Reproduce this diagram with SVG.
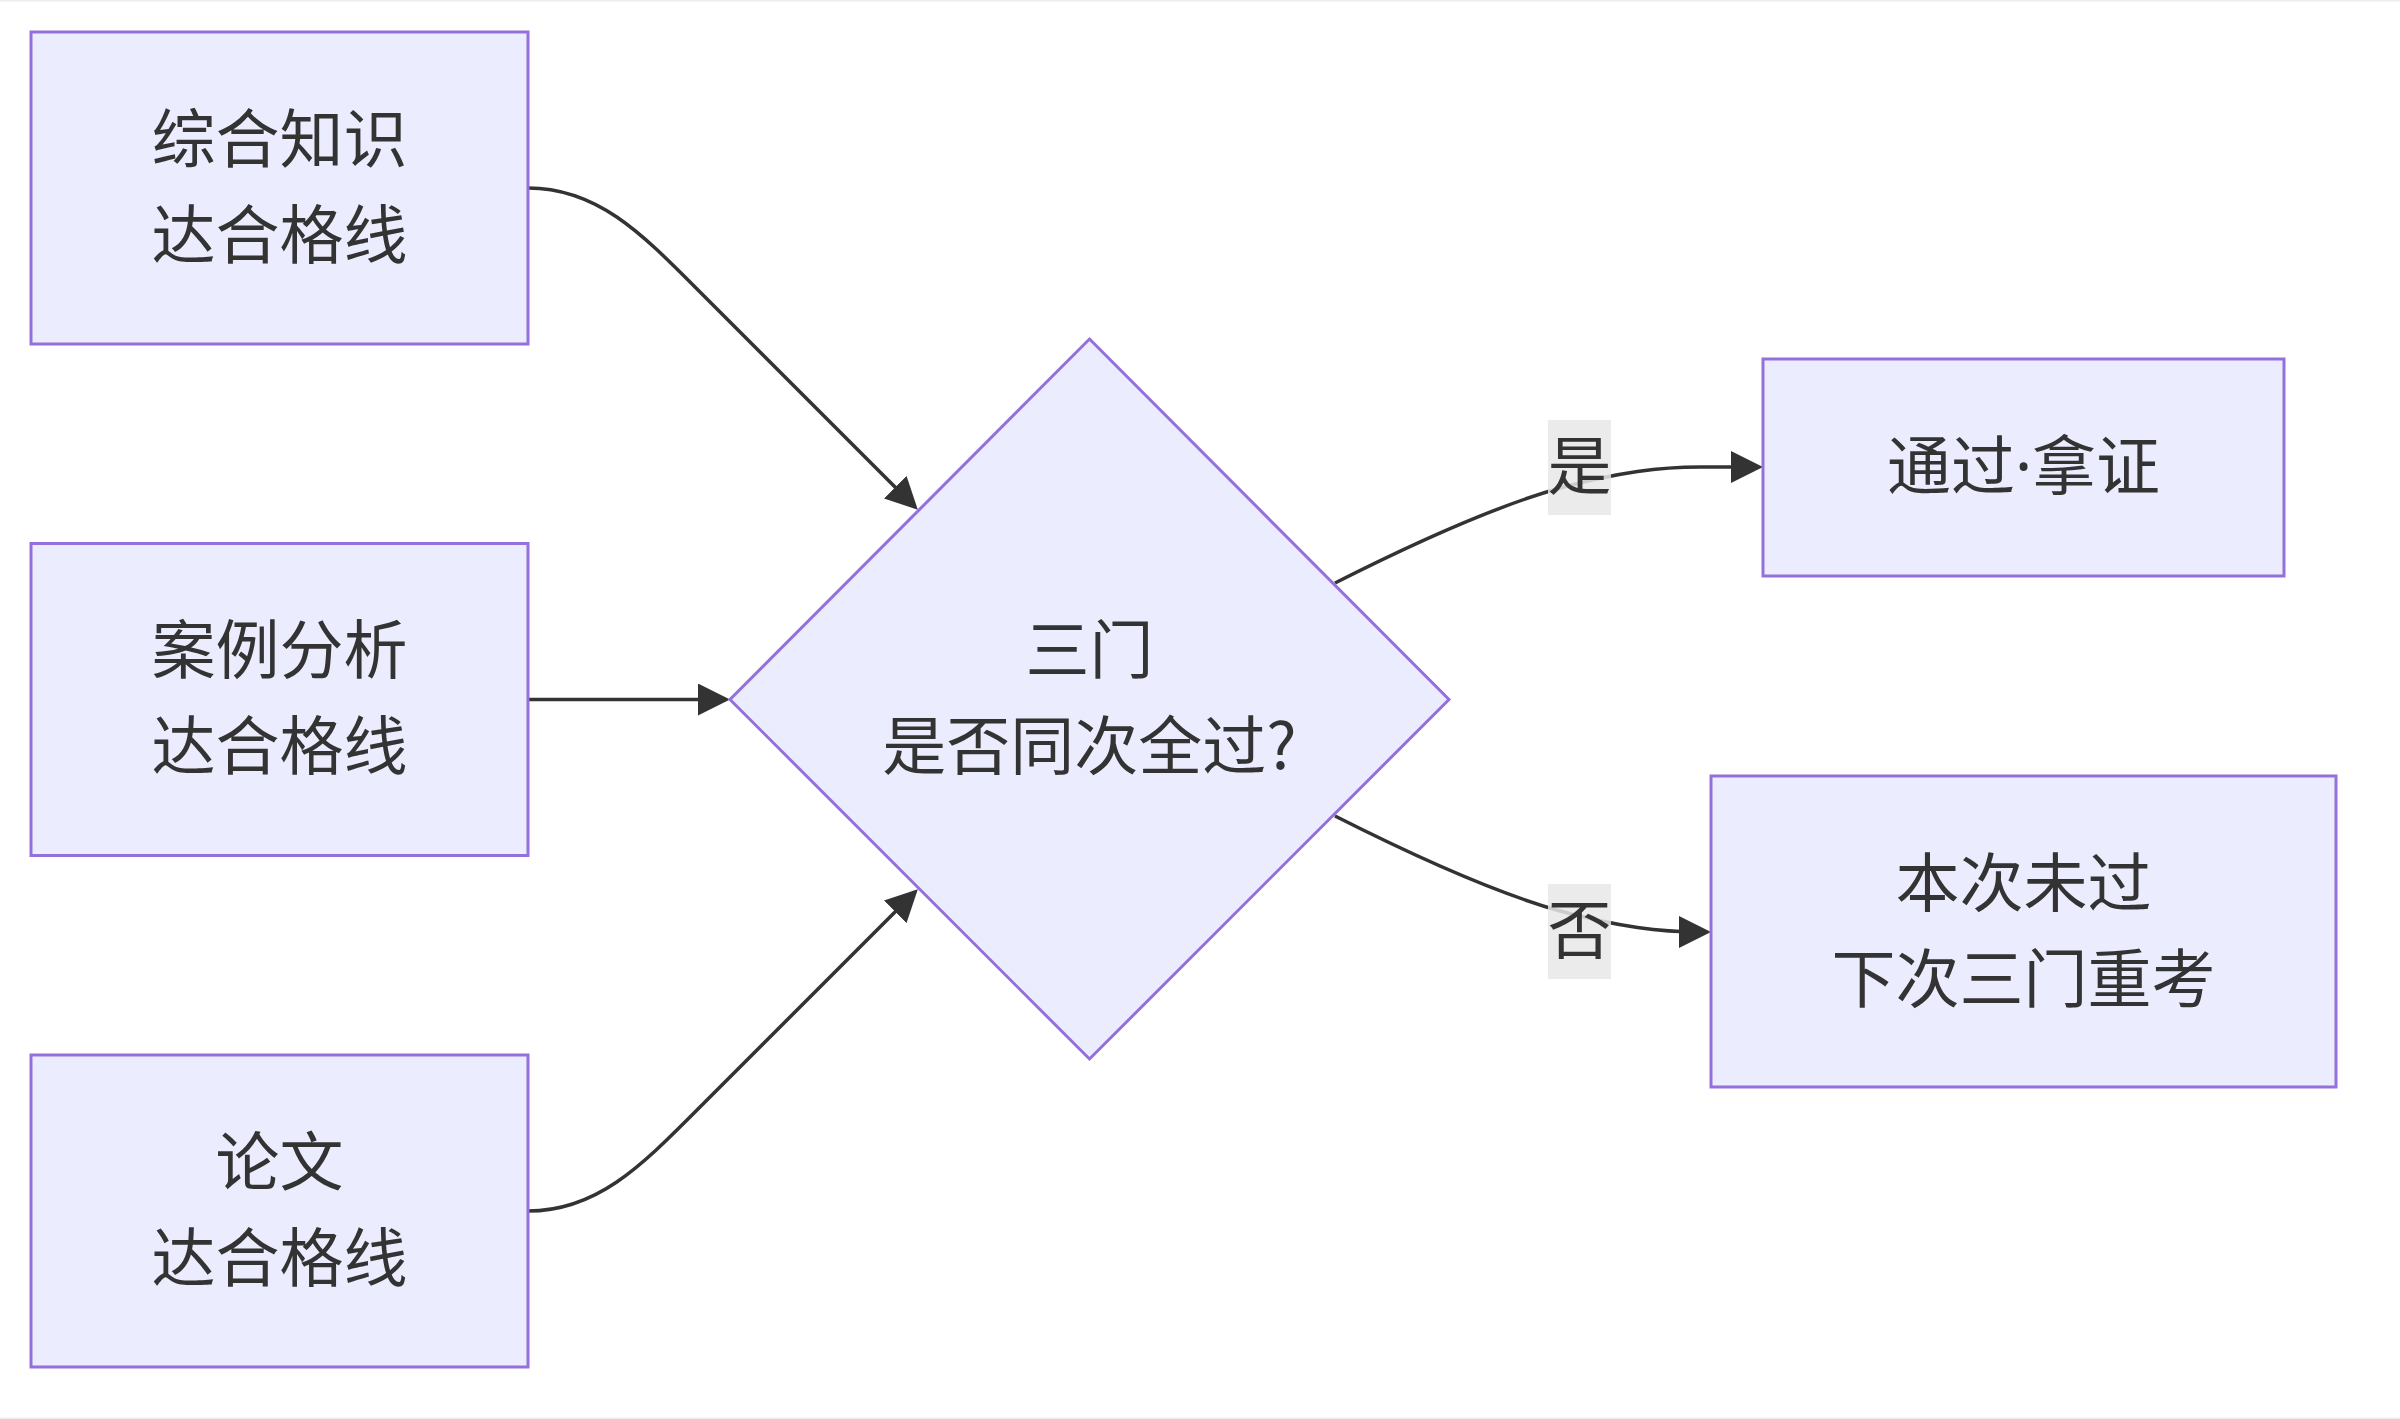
<svg xmlns="http://www.w3.org/2000/svg" width="2400" height="1419" viewBox="0 0 2400 1419">
<style>
.node rect,.node polygon{fill:#ECECFF;stroke:#9370DB;stroke-width:3}
.t{font-family:"Noto Sans CJK SC","Noto Sans",sans-serif;font-size:64px;fill:#333;text-anchor:middle}
.dot{font-family:"Noto Sans","DejaVu Sans",sans-serif}
.edge{fill:none;stroke:#333;stroke-width:3.5}
.lbl rect{fill:#e8e8e8;fill-opacity:0.85}
</style>
<defs>
<marker id="arrow" markerUnits="userSpaceOnUse" markerWidth="32" markerHeight="32" viewBox="0 0 32 32" refX="28" refY="16" orient="auto">
<path d="M0,0 L32,16 L0,32 z" fill="#333"/>
</marker>
</defs>
<rect width="2400" height="1419" fill="#fff"/>
<rect x="0" y="0" width="2400" height="1.5" fill="#eeeeee"/>
<rect x="0" y="1417.5" width="2400" height="1.5" fill="#eeeeee"/>
<g id="connectors">
<path class="edge" d="M528,188 C600,188 645,237 705,297 L915,507" marker-end="url(#arrow)"/>
<path class="edge" d="M528,699.5 L726,699.5" marker-end="url(#arrow)"/>
<path class="edge" d="M528,1211 C600,1211 645,1162 705,1102 L915,892" marker-end="url(#arrow)"/>
<path class="edge" d="M1335,583 C1420,540 1500,505 1560,488 C1620,472 1660,467 1700,467 L1759,467" marker-end="url(#arrow)"/>
<path class="edge" d="M1335,816 C1420,859 1500,894 1560,911 C1620,927 1660,932 1700,932 L1707,932" marker-end="url(#arrow)"/>
</g>
<g id="label-yes" class="lbl"><rect x="1548" y="420" width="63" height="95"/><text class="t" x="1579.5" y="489">是</text></g>
<g id="label-no" class="lbl"><rect x="1548" y="884" width="63" height="95"/><text class="t" x="1579.5" y="953">否</text></g>
<g id="n1" class="node"><rect x="31" y="32" width="497" height="312"/><text class="t" x="279.5" y="161.5">综合知识</text><text class="t" x="279.5" y="257.5">达合格线</text></g>
<g id="n2" class="node"><rect x="31" y="543.5" width="497" height="312"/><text class="t" x="279.5" y="673">案例分析</text><text class="t" x="279.5" y="769">达合格线</text></g>
<g id="n3" class="node"><rect x="31" y="1055" width="497" height="312"/><text class="t" x="279.5" y="1185">论文</text><text class="t" x="279.5" y="1281">达合格线</text></g>
<g id="n4" class="node"><polygon points="1089.5,339 1449,699.5 1089.5,1059 730,699.5"/><text class="t" x="1089.5" y="673">三门</text><text class="t" x="1089.5" y="769">是否同次全过?</text></g>
<g id="n5" class="node"><rect x="1763" y="359" width="521" height="217"/><text class="t" x="2023.5" y="489">通过<tspan class="dot">·</tspan>拿证</text></g>
<g id="n6" class="node"><rect x="1711" y="776" width="625" height="311"/><text class="t" x="2023.5" y="905.5">本次未过</text><text class="t" x="2023.5" y="1001.5">下次三门重考</text></g>
</svg>
